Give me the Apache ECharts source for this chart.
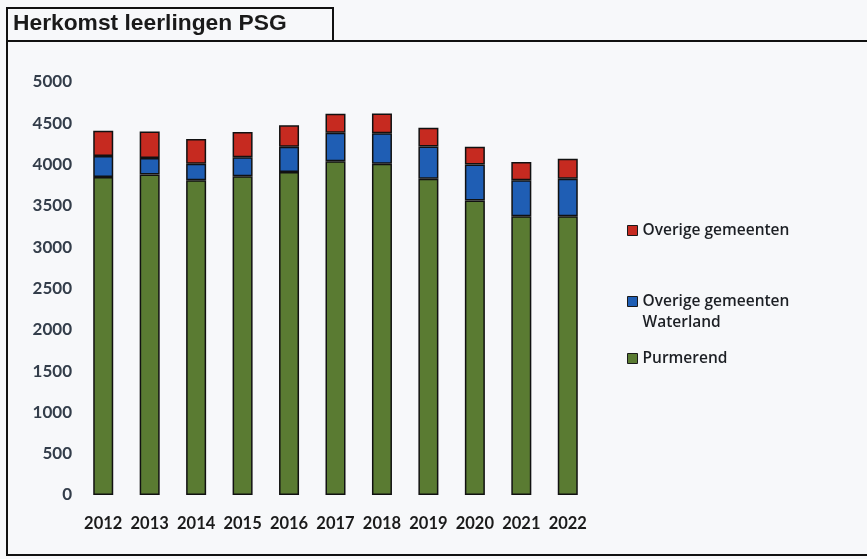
<!DOCTYPE html>
<html>
<head>
<meta charset="utf-8">
<script src="https://cdn.jsdelivr.net/npm/echarts@6/dist/echarts.min.js"></script>
<style>
html,body{margin:0;padding:0;background:#f7f8fa;}
#c{width:867px;height:559px;}
</style>
</head>
<body>
<div id="c"></div>
<script>
const titleText = 'Herkomst leerlingen PSG';
const years = ['2012','2013','2014','2015','2016','2017','2018','2019','2020','2021','2022'];
const purmerend = [3850, 3880, 3810, 3860, 3910, 4040, 4010, 3830, 3565, 3375, 3375];
const waterland = [255, 200, 200, 230, 305, 345, 370, 390, 435, 435, 455];
const overige = [305, 320, 300, 305, 260, 230, 240, 225, 215, 220, 240];
const seriesNames = ['Purmerend', 'Overige gemeenten\nWaterland', 'Overige gemeenten'];
const colors = ['#5a7b32', '#1f5eb4', '#c62a20'];

const chart = echarts.init(document.getElementById('c'));
const lab = {fontFamily: 'Lato', fontWeight: 'bold'};
function legendFor(name, top, fmt) {
  const l = {
    orient: 'vertical', left: 627, top: top,
    data: [name],
    icon: 'rect', itemWidth: 10, itemHeight: 10,
    itemStyle: {borderColor: '#1a1a1a', borderWidth: 1},
    textStyle: {fontFamily: 'Open Sans', fontWeight: 600, fontSize: 15.5, color: '#1c1f24', lineHeight: 21},
    itemGap: 0, padding: 0, selectedMode: false
  };
  if (fmt) l.formatter = fmt;
  return l;
}
chart.setOption({
  backgroundColor: '#f7f8fa',
  animation: false,
  grid: {left: 80, top: 82, width: 511, height: 413},
  xAxis: {
    type: 'category', data: years,
    axisLine: {show: false}, axisTick: {show: false},
    axisLabel: Object.assign({color: '#1b1b1b', fontSize: 16.5, margin: 20, interval: 0}, lab)
  },
  yAxis: {
    type: 'value', min: 0, max: 5000, interval: 500,
    axisLine: {show: false}, axisTick: {show: false}, splitLine: {show: false},
    axisLabel: Object.assign({color: '#333d4a', fontSize: 17, margin: 8, formatter: v => String(v)}, lab)
  },
  legend: [
    legendFor(seriesNames[2], 220),
    legendFor(seriesNames[1], 270, name => ' \n' + name),
    legendFor(seriesNames[0], 348)
  ],
  graphic: [
    {type: 'rect', shape: {x: 7, y: 41, width: 880, height: 514}, style: {fill: 'none', stroke: '#111', lineWidth: 2}, silent: true},
    {type: 'rect', shape: {x: 7, y: 8, width: 326, height: 33}, style: {fill: '#f7f8fa', stroke: '#111', lineWidth: 2}, silent: true},
    {type: 'text', left: 13, top: 12, style: {text: titleText, fontFamily: 'Liberation Sans', fontWeight: 'bold', fontSize: 22.8, fill: '#1a1a1a'}, silent: true}
  ],
  series: [purmerend, waterland, overige].map((d, i) => ({
    name: seriesNames[i], type: 'bar', stack: 'total', data: d, barWidth: 20,
    itemStyle: {color: colors[i], borderColor: '#111', borderWidth: 1.5}
  }))
});
</script>
</body>
</html>
